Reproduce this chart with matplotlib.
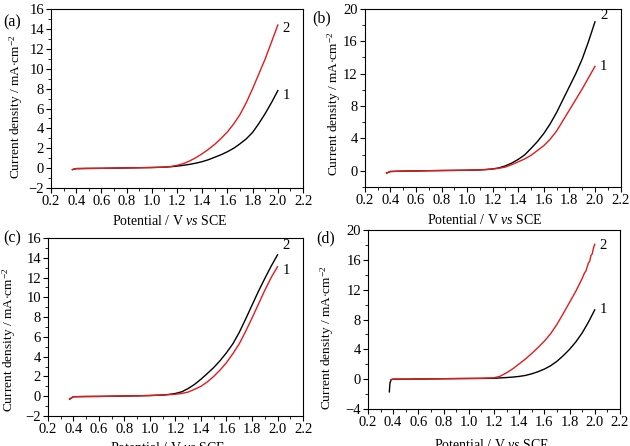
import matplotlib
matplotlib.use("Agg")
import matplotlib.pyplot as plt
from matplotlib.ticker import MultipleLocator, FormatStrFormatter

plt.rcParams['font.family'] = ['Liberation Serif', 'DejaVu Serif']
plt.rcParams['mathtext.fontset'] = 'custom'
plt.rcParams['mathtext.rm'] = 'Liberation Serif'
plt.rcParams['mathtext.it'] = 'Liberation Serif:italic'

RED = '#e31a1c'
W, H = 630, 446

# common potential grid (V vs SCE) for panels a-c
pot = [0.37, 0.4, 0.5, 0.6, 0.7, 0.8, 0.9, 1.0, 1.1, 1.15, 1.2, 1.25, 1.3, 1.35,
       1.4, 1.45, 1.5, 1.55, 1.6, 1.65, 1.7, 1.75, 1.8, 1.85, 1.9, 1.95, 2.0]

a_black = [-0.15, -0.05, -0.03, -0.02, 0.0, 0.02, 0.04, 0.06, 0.1, 0.14, 0.2, 0.28, 0.38, 0.5,
           0.65, 0.85, 1.1, 1.35, 1.65, 2.0, 2.45, 2.95, 3.6, 4.5, 5.5, 6.6, 7.8]
a_red = [-0.15, -0.05, -0.03, -0.02, 0.0, 0.02, 0.04, 0.06, 0.1, 0.16, 0.28, 0.45, 0.72, 1.05,
         1.45, 1.9, 2.4, 3.0, 3.65, 4.45, 5.4, 6.6, 8.0, 9.5, 11.0, 12.7, 14.4]

b_black = [-0.3, -0.1, -0.05, -0.03, 0.0, 0.02, 0.04, 0.06, 0.1, 0.15, 0.22, 0.35, 0.6, 0.95,
           1.4, 1.95, 2.75, 3.6, 4.6, 5.8, 7.2, 8.8, 10.4, 12.0, 13.8, 16.0, 18.4]
b_red = [-0.3, -0.1, -0.05, -0.03, 0.0, 0.02, 0.04, 0.06, 0.1, 0.14, 0.2, 0.3, 0.45, 0.75,
         1.1, 1.45, 1.9, 2.5, 3.1, 3.9, 4.9, 6.2, 7.5, 8.8, 10.1, 11.5, 12.9]

c_black = [-0.3, -0.05, -0.03, -0.02, 0.0, 0.02, 0.04, 0.07, 0.12, 0.18, 0.28, 0.45, 0.78, 1.2,
           1.72, 2.3, 2.9, 3.6, 4.4, 5.3, 6.45, 7.8, 9.2, 10.6, 11.9, 13.15, 14.3]
c_red = [-0.3, -0.05, -0.03, -0.02, 0.0, 0.02, 0.04, 0.07, 0.12, 0.16, 0.2, 0.28, 0.42, 0.7,
         1.0, 1.45, 2.0, 2.65, 3.4, 4.3, 5.3, 6.55, 7.9, 9.3, 10.7, 12.0, 13.1]

# panel d has its own grids (initial spike, noisy end)
d_pot_black = [0.37, 0.375, 0.385, 0.4, 0.5, 0.6, 0.7, 0.8, 0.9, 1.0, 1.1, 1.2, 1.25, 1.3, 1.35,
               1.4, 1.45, 1.5, 1.55, 1.6, 1.65, 1.7, 1.75, 1.8, 1.85, 1.9, 1.95, 2.0]
d_black = [-1.7, -0.5, -0.05, 0.0, 0.0, 0.02, 0.04, 0.06, 0.08, 0.09, 0.1, 0.12, 0.17, 0.22, 0.28,
           0.37, 0.5, 0.72, 1.0, 1.35, 1.8, 2.4, 3.15, 4.0, 5.0, 6.2, 7.65, 9.3]
d_pot_red = [0.38, 0.4, 0.5, 0.6, 0.7, 0.8, 0.9, 1.0, 1.1, 1.2, 1.25, 1.3, 1.35, 1.4, 1.45, 1.5,
             1.55, 1.6, 1.65, 1.7, 1.75, 1.8, 1.85, 1.9, 1.92, 1.93, 1.95, 1.96, 1.97, 1.98, 1.99, 2.0]
d_red = [-0.1, 0.0, 0.0, 0.02, 0.04, 0.06, 0.08, 0.1, 0.12, 0.18, 0.4, 0.85, 1.4, 2.05, 2.7, 3.45,
         4.25, 5.1, 6.1, 7.35, 8.8, 10.3, 11.8, 13.5, 14.3, 14.5, 15.6, 15.8, 16.6, 16.8, 17.6, 18.1]

panels = [
    # tag, tag pos, ylabel pos, xlabel pos (pixels), rect, ylim, y step, curves, end labels
    ('(a)', (12, 22), (16, 107), (170, 221), [0.081, 0.5785, 0.40, 0.401], (-2, 16), 2,
     [(pot, a_black, 'k'), (pot, a_red, RED)], [(14.1, '2'), (7.3, '1')]),
    ('(b)', (322, 18), (334, 104), (485, 220), [0.579, 0.581, 0.406, 0.399], (-2, 20), 4,
     [(pot, b_black, 'k'), (pot, b_red, RED)], [(19.2, '2'), (12.9, '1')]),
    ('(c)', (12, 238), (9, 340), (168, 448), [0.076, 0.0673, 0.405, 0.399], (-2, 16), 2,
     [(pot, c_black, 'k'), (pot, c_red, RED)], [(15.2, '2'), (12.7, '1')]),
    ('(d)', (326, 238), (327, 338), (492, 445), [0.584, 0.083, 0.40, 0.401], (-4, 20), 4,
     [(d_pot_black, d_black, 'k'), (d_pot_red, d_red, RED)], [(17.9, '2'), (9.3, '1')]),
]

fig = plt.figure(figsize=(W / 100, H / 100), dpi=100)

for tag, tpos, ylpos, xlpos, rect, ylim, ymaj, curves, ends in panels:
    ax = fig.add_axes(rect)
    for x, y, c in curves:
        ax.plot(x, y, color=c, lw=1.0)
    ax.set_xlim(0.2, 2.2)
    ax.set_ylim(*ylim)
    ax.xaxis.set_major_locator(MultipleLocator(0.2))
    ax.xaxis.set_minor_locator(MultipleLocator(0.1))
    ax.yaxis.set_major_locator(MultipleLocator(ymaj))
    ax.yaxis.set_minor_locator(MultipleLocator(ymaj / 2))
    ax.xaxis.set_major_formatter(FormatStrFormatter('%.1f'))
    ax.tick_params(which='both', direction='out', top=False, right=False, labelsize=10.5, pad=1.5)
    ax.tick_params(which='major', length=3.5, width=0.8)
    ax.tick_params(which='minor', length=2, width=0.6)
    for s in ax.spines.values():
        s.set_linewidth(0.8)
    ax.set_xlabel('Potential / V $\\it{vs}$ SCE', fontsize=10, va='center')
    ax.xaxis.set_label_coords(xlpos[0] / W, 1 - xlpos[1] / H, transform=fig.transFigure)
    ax.set_ylabel('Current density / mA$\\cdot$cm$^{-2}$', fontsize=9.6, va='center')
    ax.yaxis.set_label_coords(ylpos[0] / W, 1 - ylpos[1] / H, transform=fig.transFigure)
    for yv, s in ends:
        ax.text(2.04, yv, s, fontsize=10.5, va='center', ha='left')
    fig.text(tpos[0] / W, 1 - tpos[1] / H, tag, fontsize=11.5, ha='center', va='center')

fig.savefig('out.png', dpi=100)
